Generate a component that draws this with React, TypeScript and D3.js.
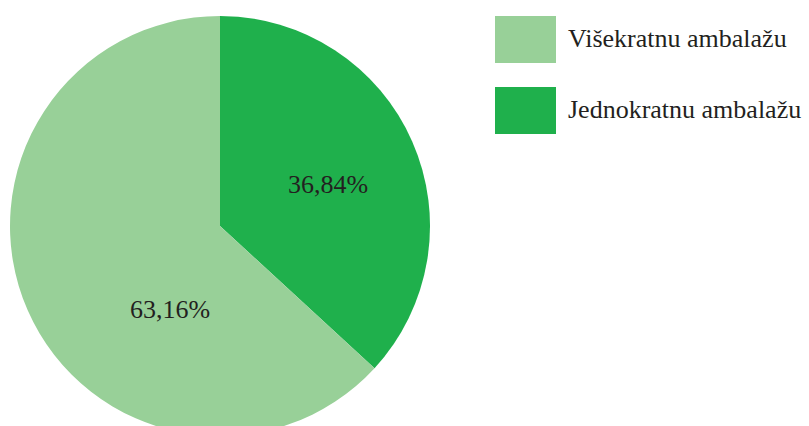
import React from "react";
import * as d3 from "d3";

const categories = ["Višekratnu ambalažu", "Jednokratnu ambalažu"];
const values = [63.16, 36.84];
const labels = ["63,16%", "36,84%"];
const colors = ["#98D098", "#1FB04C"];

const W = 809;
const H = 426;
const cx = 220;
const cy = 226;
const R = 210;
// label positions relative to centre (layout only)
const labelPos: [number, number][] = [
  [-50, 83],
  [108, -42],
];

export default function App() {
  // Dark slice starts at 12 o'clock going clockwise; light slice fills the rest
  const order = [1, 0];
  let start = 0;
  const total = d3.sum(values);
  const angle = d3.scaleLinear().domain([0, total]).range([0, 2 * Math.PI]);
  const arcs = order.map((i) => {
    const a0 = angle(start);
    start += values[i];
    const a1 = angle(start);
    return { i, a0, a1 };
  });
  const arcGen = d3.arc<any>().innerRadius(0).outerRadius(R);

  return (
    <svg width={W} height={H} style={{ position: "absolute", left: 0, top: 0 }}>
      <style>{"svg text { font-family: 'Liberation Serif', serif !important; }"}</style>
      <g transform={`translate(${cx},${cy})`}>
        {arcs.map((a) => (
          <path key={a.i} d={arcGen({ startAngle: a.a0, endAngle: a.a1 }) as string} fill={colors[a.i]} />
        ))}
      </g>
      {values.map((v, i) => (
        <text key={"l" + i} x={cx + labelPos[i][0]} y={cy + labelPos[i][1] + 9} textAnchor="middle"
          fontSize={26} fill="#231F20" style={{ fontFamily: "Liberation Serif" }}>
          {labels[i]}
        </text>
      ))}
      {categories.map((c, i) => (
        <g key={c}>
          <rect x={495} y={16 + i * 71} width={61} height={47} fill={colors[i]} />
          <text x={568} y={47 + i * 71} fontSize={26} fill="#231F20" style={{ fontFamily: "Liberation Serif" }}>{c}</text>
        </g>
      ))}
    </svg>
  );
}
